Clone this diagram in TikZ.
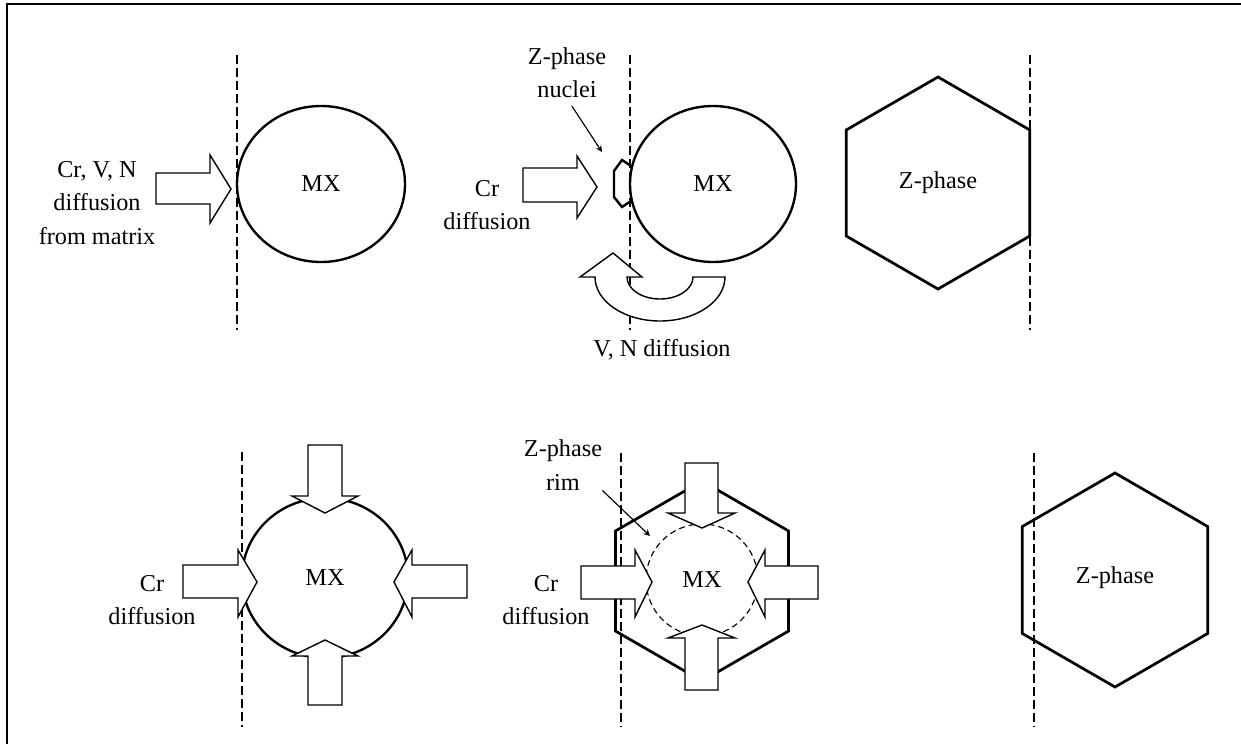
\documentclass[tikz,border=0pt]{standalone}
\usepackage{fontspec}
\setmainfont{Liberation Serif}
\usepackage{tikz}
\usetikzlibrary{arrows,calc}

\begin{document}
\begin{tikzpicture}[
        x=0.02cm, y=-0.02cm,
        txt/.style={align=center, inner sep=0pt, font=\fontsize{13.8}{19}\selectfont},
        particle/.style={draw=black, line width=1.35pt},
        phase/.style={draw=black, line width=1.55pt, line join=miter},
        rim/.style={draw=black, line width=0.65pt, dash pattern=on 3.4pt off 2.3pt},
        boundary/.style={draw=black, line width=0.8pt, dash pattern=on 5.1pt off 2.3pt},
        flux/.style={draw=black, fill=white, line width=0.8pt, line join=miter},
        pointer/.style={->, >=stealth, line width=0.65pt},
        frame/.style={draw=black, line width=1.5pt}
    ]

    \useasboundingbox (0,0) rectangle (1241,744);

    % Frame (top and left edges only)
    \draw[frame] (7,744) -- (7,4) -- (1241,4);

    % === Stage 1: MX at the boundary (top left) ===
    \draw[boundary] (237,55) -- (237,330);
    \node[txt] (mx1) at (321,184) {MX};
    \draw[particle] (mx1.center) ellipse [x radius=84, y radius=78];
    \node[txt] (feed1) at (97,203) {Cr, V, N\\diffusion\\from matrix};
    \draw[flux] (156,173) -- (210,173) -- (210,155) -- (231,189) -- (210,223) -- (210,204) -- (156,204) -- cycle;

    % === Stage 2: Z-phase nucleation (top middle) ===
    \draw[boundary] (630,55) -- (630,330);
    \node[txt] (mx2) at (713,184) {MX};
    \draw[particle] (mx2.center) ellipse [x radius=83, y radius=78];
    \draw[particle] (631,166) -- (622,160) -- (614,171) -- (614,197) -- (622,207) -- (631,201);
    \node[txt] (nuclei) at (567,73) {Z-phase\\nuclei};
    \coordinate (nucleus) at (602,152);
    \draw[pointer, shorten <=5pt] (nuclei.south) -- (nucleus);
    \node[txt] (feed2) at (487,205) {Cr\\diffusion};
    \draw[flux] (523,168) -- (577,168) -- (577,156) -- (597,187) -- (577,218) -- (577,202) -- (523,202) -- cycle;
    % curved return flux
    \draw[flux] (725,277) arc (0:180:65 and 44) -- (580,277) -- (613,253) -- (642,277) -- (627,277) arc (180:0:33 and 22) -- cycle;
    \node[txt] (back2) at (662,350) {V, N diffusion};

    % === Stage 3: Z-phase (top right) ===
    \draw[boundary] (1030,55) -- (1030,330);
    \node[txt] (z3) at (938,183) {Z-phase};
    \draw[phase, shift={(z3.center)}] (30:106) \foreach \a in {90,150,...,330} {-- (\a:106)} -- cycle;

    % === Stage 4: Cr flux onto MX (bottom left) ===
    \draw[boundary] (242,452) -- (242,727);
    \node[txt] (mx4) at (325,578) {MX};
    \draw[particle] (mx4.center) ellipse [x radius=83, y radius=80];
    \node[txt] (feed4) at (152,600) {Cr\\diffusion};
    \draw[flux] (308,445) -- (342,445) -- (342,496) -- (358,496) -- (325,513) -- (292,496) -- (308,496) -- cycle;
    \draw[flux] (308,705) -- (342,705) -- (342,656) -- (358,656) -- (325,640) -- (292,656) -- (308,656) -- cycle;
    \draw[flux] (183,565) -- (238,565) -- (238,550) -- (257,582) -- (238,617) -- (238,598) -- (183,598) -- cycle;
    \draw[flux] (467,565) -- (412,565) -- (412,550) -- (394,582) -- (412,617) -- (412,598) -- (467,598) -- cycle;

    % === Stage 5: Z-phase rim (bottom middle) ===
    \draw[boundary] (621,453) -- (621,727);
    \draw[phase, shift={(702,581)}] (30:100) \foreach \a in {90,150,...,330} {-- (\a:100)} -- cycle;
    \node[txt] (mx5) at (702,580) {MX};
    \draw[rim] (mx5.center) circle [radius=56];
    \draw[flux] (685,463) -- (718,463) -- (718,513) -- (735,513) -- (702,528) -- (668,513) -- (685,513) -- cycle;
    \draw[flux] (685,690) -- (718,690) -- (718,638) -- (735,638) -- (702,625) -- (668,638) -- (685,638) -- cycle;
    \draw[flux] (581,566) -- (635,566) -- (635,550) -- (652,582) -- (635,617) -- (635,599) -- (581,599) -- cycle;
    \draw[flux] (818,566) -- (765,566) -- (765,550) -- (748,582) -- (765,617) -- (765,599) -- (818,599) -- cycle;
    \node[txt] (rimlabel) at (563,465) {Z-phase\\rim};
    \coordinate (rimtip) at (650,536);
    \draw[pointer] (rimlabel.south east) -- (rimtip);
    \node[txt] (feed5) at (546,600) {Cr\\diffusion};

    % === Stage 6: Z-phase (bottom right) ===
    \draw[boundary] (1034,453) -- (1034,727);
    \node[txt] (z6) at (1115,578) {Z-phase};
    \draw[phase, shift={(1115,580)}] (30:107) \foreach \a in {90,150,...,330} {-- (\a:107)} -- cycle;

\end{tikzpicture}
\end{document}
